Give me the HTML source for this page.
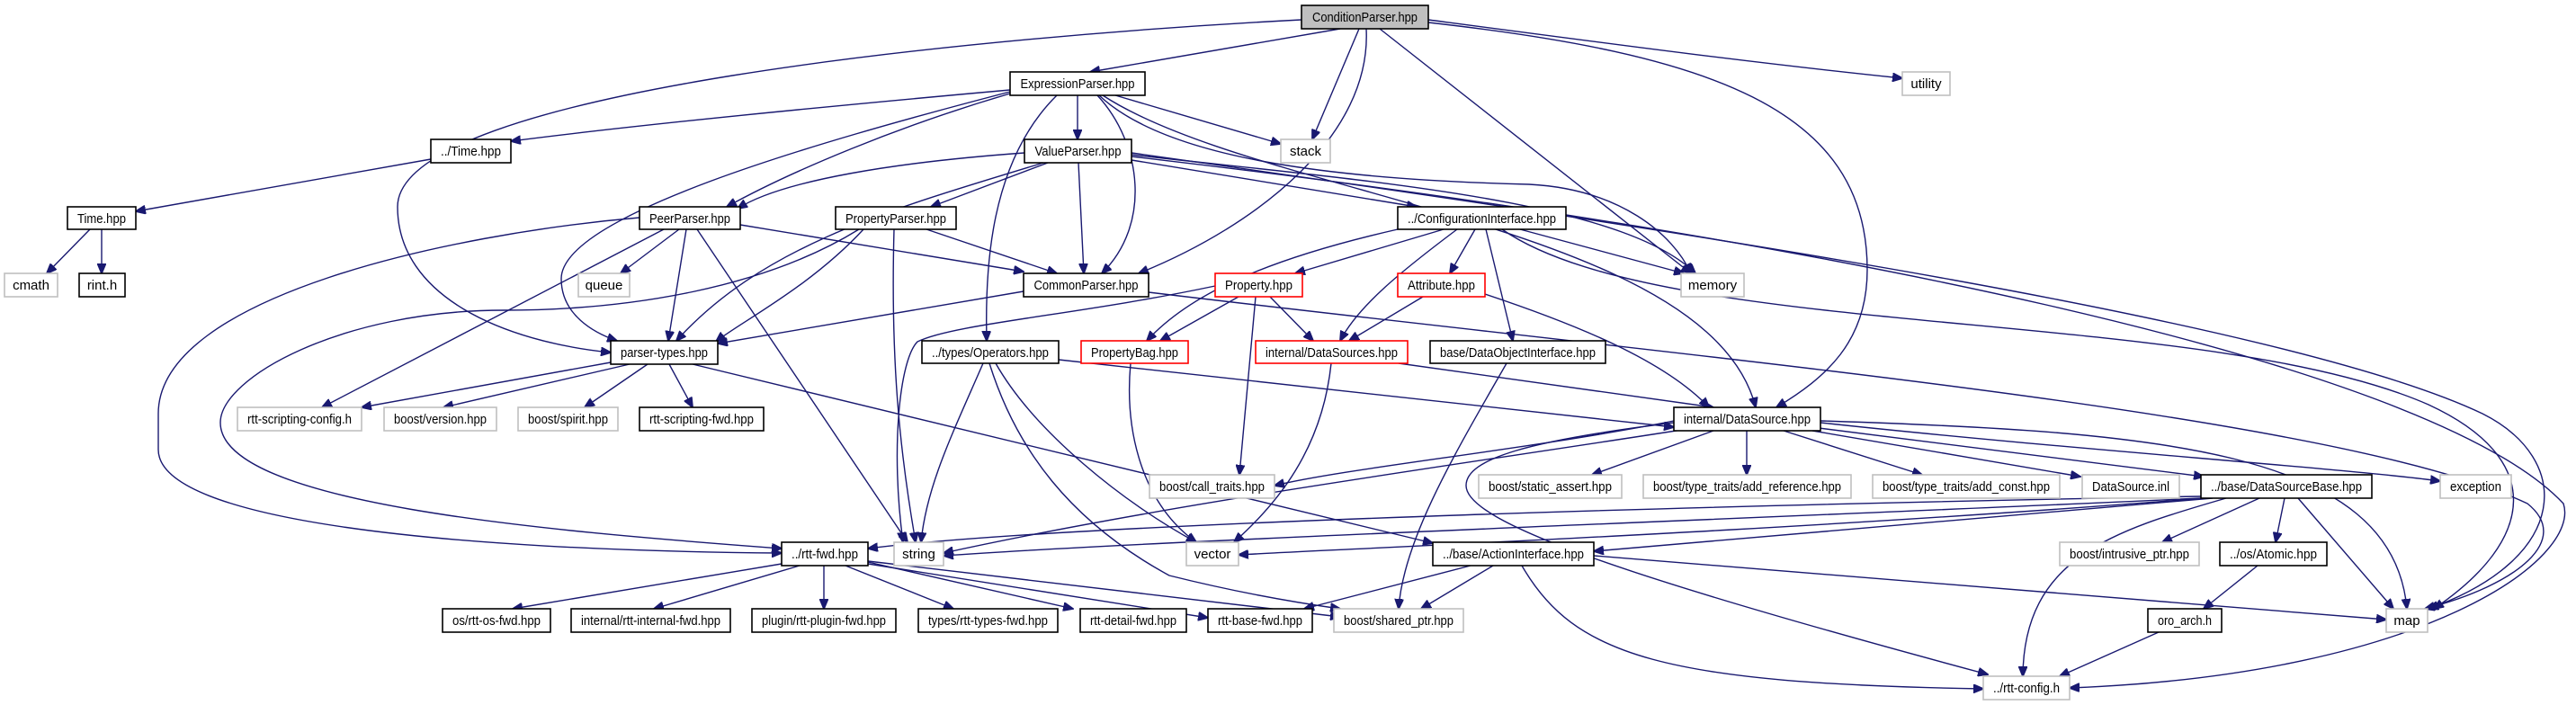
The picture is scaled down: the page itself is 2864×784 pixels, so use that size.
<!DOCTYPE html>
<html><head><meta charset="utf-8"><style>
html,body{margin:0;padding:0;background:#fff;}
svg{display:block;}
text{font-family:"Liberation Sans",Arial,sans-serif;font-size:15px;fill:#000;}
.e{fill:none;stroke:#191970;stroke-width:1.4;marker-end:url(#a);}
.b{fill:#fff;stroke:#000;stroke-width:1.6;}
.g{fill:#fff;stroke:#bfbfbf;stroke-width:1.6;}
.r{fill:#fff;stroke:#ff0000;stroke-width:1.6;}
</style></head><body>
<svg width="2864" height="784" viewBox="0 0 2864 784" xmlns="http://www.w3.org/2000/svg">
<defs><marker id="a" markerWidth="12" markerHeight="10" refX="11" refY="5" orient="auto" markerUnits="userSpaceOnUse"><path d="M0,0 L12,5 L0,10 z" fill="#191970" stroke="#191970"/></marker></defs>
<g>
<path class="e" d="M1490,32 L1212,80"/>
<path class="e" d="M1511,32 L1459,155"/>
<path class="e" d="M1519,32 C1525,150 1400,250 1266,304"/>
<path class="e" d="M1534,32 L1880,304"/>
<path class="e" d="M1588,22 C1800,50 1950,70 2115,87"/>
<path class="e" d="M1588,25 C1900,60 2076,120 2076,300 C2076,380 2030,420 1975,453"/>
<path class="e" d="M1447,22 C1100,40 442,100 442,230 C442,330 560,380 679,392"/>
<path class="e" d="M1123,100 C900,120 700,140 568,157"/>
<path class="e" d="M1123,104 C1000,140 880,190 808,230"/>
<path class="e" d="M1123,102 C900,160 624,240 624,310 C624,350 660,370 686,379"/>
<path class="e" d="M1198,106 L1198,155"/>
<path class="e" d="M1175,106 C1100,180 1095,300 1097,379"/>
<path class="e" d="M1220,106 C1270,160 1280,250 1225,304"/>
<path class="e" d="M1240,106 L1424,160"/>
<path class="e" d="M1222,106 C1300,180 1500,200 1700,205 C1800,210 1860,260 1880,304"/>
<path class="e" d="M1226,106 C1400,220 1900,250 1952,453"/>
<path class="e" d="M1139,170 C1000,180 870,200 820,232"/>
<path class="e" d="M1160,181 C1000,230 850,270 752,379"/>
<path class="e" d="M1165,181 L1035,230"/>
<path class="e" d="M1199,181 L1205,304"/>
<path class="e" d="M1258,178 L1575,230"/>
<path class="e" d="M1258,172 C1500,200 1800,220 1885,304"/>
<path class="e" d="M1258,170 C1900,260 2550,360 2760,460 C2860,510 2860,620 2700,677"/>
<path class="e" d="M1258,174 C2000,260 2700,400 2850,560 C2870,620 2700,750 2301,765"/>
<path class="e" d="M755,255 L690,304"/>
<path class="e" d="M763,255 L743,379"/>
<path class="e" d="M775,255 L1009,603"/>
<path class="e" d="M711,242 C500,260 176,330 176,460 L176,500 C176,580 500,612 869,615"/>
<path class="e" d="M823,250 L1138,302"/>
<path class="e" d="M738,255 L358,453"/>
<path class="e" d="M1030,255 L1175,304"/>
<path class="e" d="M994,255 C990,400 1000,500 1018,603"/>
<path class="e" d="M960,255 C900,320 820,360 796,380"/>
<path class="e" d="M955,255 C850,320 700,345 560,345 C380,345 245,420 245,470 C245,560 600,590 869,610"/>
<path class="e" d="M1138,324 L798,382"/>
<path class="e" d="M1277,325 C1900,400 2600,460 2810,560 C2860,600 2800,650 2696,677"/>
<path class="e" d="M1554,255 C1400,290 1320,330 1275,379"/>
<path class="e" d="M1605,255 L1440,304"/>
<path class="e" d="M1620,255 C1560,300 1510,340 1490,379"/>
<path class="e" d="M1640,255 L1612,304"/>
<path class="e" d="M1652,255 L1682,379"/>
<path class="e" d="M1690,255 L1872,304"/>
<path class="e" d="M1670,255 C1850,380 2450,340 2700,450 C2830,510 2820,600 2706,677"/>
<path class="e" d="M1377,330 L1290,379"/>
<path class="e" d="M1412,330 L1460,379"/>
<path class="e" d="M1396,330 L1378,528"/>
<path class="e" d="M1351,318 C1200,350 1060,360 1020,380 C1000,400 990,500 1004,603"/>
<path class="e" d="M1582,330 L1500,379"/>
<path class="e" d="M1651,327 C1750,360 1850,400 1900,453"/>
<path class="e" d="M1257,404 C1250,480 1270,560 1330,603"/>
<path class="e" d="M1480,404 C1470,500 1420,560 1372,603"/>
<path class="e" d="M1555,404 L1905,453"/>
<path class="e" d="M1675,404 C1620,500 1560,600 1555,677"/>
<path class="e" d="M1093,404 C1060,480 1030,540 1024,603"/>
<path class="e" d="M1107,404 C1150,480 1250,560 1330,603"/>
<path class="e" d="M1100,404 C1130,500 1190,580 1300,640 C1380,660 1440,670 1490,677"/>
<path class="e" d="M1177,400 L1861,475"/>
<path class="e" d="M679,403 L402,453"/>
<path class="e" d="M700,405 L493,453"/>
<path class="e" d="M720,405 L650,453"/>
<path class="e" d="M744,405 L770,453"/>
<path class="e" d="M770,405 L1593,604"/>
<path class="e" d="M869,627 L570,677"/>
<path class="e" d="M889,629 L727,677"/>
<path class="e" d="M916,629 L916,677"/>
<path class="e" d="M940,629 L1060,677"/>
<path class="e" d="M965,625 L1193,677"/>
<path class="e" d="M965,627 L1343,687"/>
<path class="e" d="M965,624 L1490,686"/>
<path class="e" d="M1861,468 C1700,500 1500,520 1417,540"/>
<path class="e" d="M1870,478 C1600,520 1300,560 1049,615"/>
<path class="e" d="M1905,479 L1770,528"/>
<path class="e" d="M1942,479 L1942,528"/>
<path class="e" d="M1983,479 L2137,528"/>
<path class="e" d="M2015,479 L2313,530"/>
<path class="e" d="M2022,476 L2450,530"/>
<path class="e" d="M2024,470 C2300,500 2600,520 2713,535"/>
<path class="e" d="M2024,468 C2400,480 2660,500 2676,677"/>
<path class="e" d="M1861,470 C1700,490 1630,510 1630,540 C1630,580 1800,640 2210,750"/>
<path class="e" d="M2447,552 C2000,560 1200,580 965,610"/>
<path class="e" d="M2447,554 C2000,575 1300,600 1049,618"/>
<path class="e" d="M2450,554 C2000,590 1500,610 1377,617"/>
<path class="e" d="M2460,554 L1772,613"/>
<path class="e" d="M2512,554 L2404,603"/>
<path class="e" d="M2540,554 L2530,603"/>
<path class="e" d="M2555,554 L2661,677"/>
<path class="e" d="M2475,554 C2350,590 2250,620 2249,752"/>
<path class="e" d="M1635,629 L1450,677"/>
<path class="e" d="M1660,629 L1580,677"/>
<path class="e" d="M1772,618 L2653,689"/>
<path class="e" d="M1692,629 C1750,730 1850,760 2205,766"/>
<path class="e" d="M2510,629 L2450,677"/>
<path class="e" d="M2400,703 L2290,752"/>
<path class="e" d="M100,255 L52,304"/>
<path class="e" d="M113,255 L113,304"/>
<path class="e" d="M479,177 L151,235"/>
</g>
<g>
<rect x="1447" y="6" width="141" height="26" fill="#bfbfbf" stroke="#000" stroke-width="1.6"/><text x="1517.5" y="24" text-anchor="middle" textLength="117" lengthAdjust="spacingAndGlyphs">ConditionParser.hpp</text>
<rect class="b" x="1123" y="80" width="150" height="26"/><text x="1198" y="98" text-anchor="middle" textLength="127" lengthAdjust="spacingAndGlyphs">ExpressionParser.hpp</text>
<rect class="g" x="2115" y="80" width="53" height="26"/><text x="2141.5" y="98" text-anchor="middle">utility</text>
<rect class="b" x="479" y="155" width="89" height="26"/><text x="523.5" y="173" text-anchor="middle" textLength="67" lengthAdjust="spacingAndGlyphs">../Time.hpp</text>
<rect class="b" x="1139" y="155" width="119" height="26"/><text x="1198.5" y="173" text-anchor="middle" textLength="96" lengthAdjust="spacingAndGlyphs">ValueParser.hpp</text>
<rect class="g" x="1424" y="155" width="55" height="26"/><text x="1451.5" y="173" text-anchor="middle">stack</text>
<rect class="b" x="75" y="230" width="76" height="25"/><text x="113" y="248" text-anchor="middle" textLength="54" lengthAdjust="spacingAndGlyphs">Time.hpp</text>
<rect class="b" x="711" y="230" width="112" height="25"/><text x="767" y="248" text-anchor="middle" textLength="90" lengthAdjust="spacingAndGlyphs">PeerParser.hpp</text>
<rect class="b" x="929" y="230" width="134" height="25"/><text x="996" y="248" text-anchor="middle" textLength="112" lengthAdjust="spacingAndGlyphs">PropertyParser.hpp</text>
<rect class="b" x="1554" y="230" width="187" height="25"/><text x="1647.5" y="248" text-anchor="middle" textLength="165" lengthAdjust="spacingAndGlyphs">../ConfigurationInterface.hpp</text>
<rect class="g" x="5" y="304" width="59" height="26"/><text x="34.5" y="322" text-anchor="middle">cmath</text>
<rect class="b" x="88" y="304" width="51" height="26"/><text x="113.5" y="322" text-anchor="middle">rint.h</text>
<rect class="g" x="643" y="304" width="57" height="26"/><text x="671.5" y="322" text-anchor="middle">queue</text>
<rect class="b" x="1138" y="304" width="139" height="26"/><text x="1207.5" y="322" text-anchor="middle" textLength="116" lengthAdjust="spacingAndGlyphs">CommonParser.hpp</text>
<rect class="r" x="1351" y="304" width="97" height="26"/><text x="1399.5" y="322" text-anchor="middle" textLength="75" lengthAdjust="spacingAndGlyphs">Property.hpp</text>
<rect class="r" x="1554" y="304" width="97" height="26"/><text x="1602.5" y="322" text-anchor="middle" textLength="75" lengthAdjust="spacingAndGlyphs">Attribute.hpp</text>
<rect class="g" x="1869" y="304" width="70" height="26"/><text x="1904" y="322" text-anchor="middle">memory</text>
<rect class="b" x="679" y="379" width="119" height="26"/><text x="738.5" y="397" text-anchor="middle" textLength="97" lengthAdjust="spacingAndGlyphs">parser-types.hpp</text>
<rect class="b" x="1025" y="379" width="152" height="25"/><text x="1101" y="397" text-anchor="middle" textLength="130" lengthAdjust="spacingAndGlyphs">../types/Operators.hpp</text>
<rect class="r" x="1202" y="379" width="119" height="25"/><text x="1261.5" y="397" text-anchor="middle" textLength="97" lengthAdjust="spacingAndGlyphs">PropertyBag.hpp</text>
<rect class="r" x="1396" y="379" width="169" height="25"/><text x="1480.5" y="397" text-anchor="middle" textLength="147" lengthAdjust="spacingAndGlyphs">internal/DataSources.hpp</text>
<rect class="b" x="1590" y="379" width="195" height="25"/><text x="1687.5" y="397" text-anchor="middle" textLength="173" lengthAdjust="spacingAndGlyphs">base/DataObjectInterface.hpp</text>
<rect class="g" x="264" y="453" width="138" height="26"/><text x="333" y="471" text-anchor="middle" textLength="116" lengthAdjust="spacingAndGlyphs">rtt-scripting-config.h</text>
<rect class="g" x="427" y="453" width="125" height="26"/><text x="489.5" y="471" text-anchor="middle" textLength="103" lengthAdjust="spacingAndGlyphs">boost/version.hpp</text>
<rect class="g" x="576" y="453" width="111" height="26"/><text x="631.5" y="471" text-anchor="middle" textLength="89" lengthAdjust="spacingAndGlyphs">boost/spirit.hpp</text>
<rect class="b" x="711" y="453" width="138" height="26"/><text x="780" y="471" text-anchor="middle" textLength="116" lengthAdjust="spacingAndGlyphs">rtt-scripting-fwd.hpp</text>
<rect class="b" x="1861" y="453" width="163" height="26"/><text x="1942.5" y="471" text-anchor="middle" textLength="141" lengthAdjust="spacingAndGlyphs">internal/DataSource.hpp</text>
<rect class="g" x="1278" y="528" width="139" height="26"/><text x="1347.5" y="546" text-anchor="middle" textLength="117" lengthAdjust="spacingAndGlyphs">boost/call_traits.hpp</text>
<rect class="g" x="1644" y="528" width="159" height="26"/><text x="1723.5" y="546" text-anchor="middle" textLength="137" lengthAdjust="spacingAndGlyphs">boost/static_assert.hpp</text>
<rect class="g" x="1827" y="528" width="231" height="26"/><text x="1942.5" y="546" text-anchor="middle" textLength="209" lengthAdjust="spacingAndGlyphs">boost/type_traits/add_reference.hpp</text>
<rect class="g" x="2082" y="528" width="208" height="26"/><text x="2186" y="546" text-anchor="middle" textLength="186" lengthAdjust="spacingAndGlyphs">boost/type_traits/add_const.hpp</text>
<rect class="g" x="2315" y="528" width="108" height="26"/><text x="2369" y="546" text-anchor="middle" textLength="86" lengthAdjust="spacingAndGlyphs">DataSource.inl</text>
<rect class="b" x="2447" y="528" width="190" height="26"/><text x="2542" y="546" text-anchor="middle" textLength="168" lengthAdjust="spacingAndGlyphs">../base/DataSourceBase.hpp</text>
<rect class="g" x="2713" y="528" width="79" height="26"/><text x="2752.5" y="546" text-anchor="middle" textLength="57" lengthAdjust="spacingAndGlyphs">exception</text>
<rect class="b" x="869" y="603" width="96" height="26"/><text x="917" y="621" text-anchor="middle" textLength="74" lengthAdjust="spacingAndGlyphs">../rtt-fwd.hpp</text>
<rect class="g" x="994" y="603" width="55" height="26"/><text x="1021.5" y="621" text-anchor="middle">string</text>
<rect class="g" x="1319" y="603" width="58" height="26"/><text x="1348" y="621" text-anchor="middle">vector</text>
<rect class="b" x="1593" y="603" width="179" height="26"/><text x="1682.5" y="621" text-anchor="middle" textLength="157" lengthAdjust="spacingAndGlyphs">../base/ActionInterface.hpp</text>
<rect class="g" x="2290" y="603" width="155" height="26"/><text x="2367.5" y="621" text-anchor="middle" textLength="133" lengthAdjust="spacingAndGlyphs">boost/intrusive_ptr.hpp</text>
<rect class="b" x="2468" y="603" width="119" height="26"/><text x="2527.5" y="621" text-anchor="middle" textLength="97" lengthAdjust="spacingAndGlyphs">../os/Atomic.hpp</text>
<rect class="b" x="492" y="677" width="120" height="26"/><text x="552" y="695" text-anchor="middle" textLength="98" lengthAdjust="spacingAndGlyphs">os/rtt-os-fwd.hpp</text>
<rect class="b" x="635" y="677" width="177" height="26"/><text x="723.5" y="695" text-anchor="middle" textLength="155" lengthAdjust="spacingAndGlyphs">internal/rtt-internal-fwd.hpp</text>
<rect class="b" x="836" y="677" width="160" height="26"/><text x="916" y="695" text-anchor="middle" textLength="138" lengthAdjust="spacingAndGlyphs">plugin/rtt-plugin-fwd.hpp</text>
<rect class="b" x="1021" y="677" width="155" height="26"/><text x="1098.5" y="695" text-anchor="middle" textLength="133" lengthAdjust="spacingAndGlyphs">types/rtt-types-fwd.hpp</text>
<rect class="b" x="1201" y="677" width="118" height="26"/><text x="1260" y="695" text-anchor="middle" textLength="96" lengthAdjust="spacingAndGlyphs">rtt-detail-fwd.hpp</text>
<rect class="b" x="1343" y="677" width="116" height="26"/><text x="1401" y="695" text-anchor="middle" textLength="94" lengthAdjust="spacingAndGlyphs">rtt-base-fwd.hpp</text>
<rect class="g" x="1483" y="677" width="144" height="26"/><text x="1555" y="695" text-anchor="middle" textLength="122" lengthAdjust="spacingAndGlyphs">boost/shared_ptr.hpp</text>
<rect class="b" x="2388" y="677" width="82" height="26"/><text x="2429" y="695" text-anchor="middle" textLength="60" lengthAdjust="spacingAndGlyphs">oro_arch.h</text>
<rect class="g" x="2653" y="677" width="46" height="26"/><text x="2676" y="695" text-anchor="middle">map</text>
<rect class="g" x="2205" y="752" width="96" height="26"/><text x="2253" y="770" text-anchor="middle" textLength="74" lengthAdjust="spacingAndGlyphs">../rtt-config.h</text>
</g>
</svg>
</body></html>
